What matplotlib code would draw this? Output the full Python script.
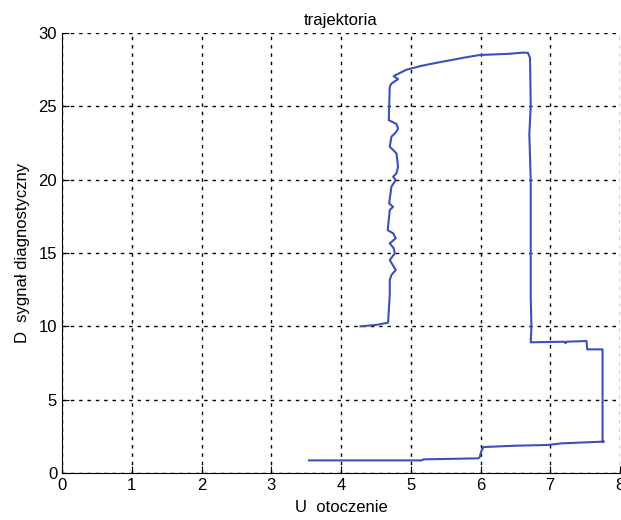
import matplotlib.pyplot as plt

plt.rcParams['font.family'] = ['Liberation Sans', 'DejaVu Sans']

# trajektoria punktu pracy: U (otoczenie) vs D (sygnal diagnostyczny)
u = [4.28, 4.51, 4.675, 4.70, 4.699, 4.723, 4.785, 4.699, 4.771, 4.756,
     4.699, 4.785, 4.747, 4.67, 4.699, 4.747, 4.69, 4.723, 4.785, 4.747,
     4.795, 4.818, 4.795, 4.699, 4.723, 4.795, 4.818, 4.795, 4.685,
     4.699, 4.723, 4.818, 4.756, 4.795, 4.80, 4.94, 5.17, 5.46, 5.80, 5.99,
     6.40, 6.60, 6.68,
     6.71, 6.72, 6.70, 6.72, 6.72, 6.72, 6.73, 6.72,
     7.20, 7.22, 7.23, 7.52, 7.53, 7.75, 7.75, 7.77,
     7.16, 6.97, 6.49, 6.04, 6.01, 5.99, 5.97, 5.18, 5.16, 3.54]
d = [10.0, 10.1, 10.25, 12.25, 13.16, 13.50, 13.84, 14.52, 14.97, 15.32,
     15.66, 16.00, 16.34, 16.56, 17.93, 18.15, 18.38, 19.52, 19.97, 20.20,
     20.43, 20.88, 21.79, 22.25, 22.93, 23.27, 23.49, 23.80, 24.06,
     26.34, 26.55, 26.85, 27.05, 27.17, 27.17, 27.50, 27.78, 28.05, 28.35, 28.50,
     28.58, 28.66, 28.65,
     28.30, 25.00, 23.10, 20.00, 15.00, 12.00, 10.00, 8.91,
     8.95, 8.85, 8.95, 9.00, 8.43, 8.43, 2.14, 2.14,
     2.02, 1.91, 1.86, 1.77, 1.45, 1.10, 1.00, 0.93, 0.86, 0.86]

fig = plt.figure(figsize=(6.21, 5.20), dpi=100)
ax = fig.add_axes([62 / 621, 47 / 520, 558 / 621, 440 / 520])

ax.plot(u, d, color='#3b50b8', linewidth=1.5)

ax.set_xlim(0, 8)
ax.set_ylim(0, 30)
ax.set_xticks(range(0, 9))
ax.set_yticks(range(0, 31, 5))
ax.grid(True, color='black', linestyle=(0, (2.5, 3.5)), linewidth=1.0)
ax.spines['top'].set_visible(False)
ax.spines['right'].set_visible(False)
ax.tick_params(direction='in', length=5, labelsize=12, colors='black')

ax.set_title('trajektoria', fontsize=12, pad=6)
ax.set_xlabel('U  otoczenie', fontsize=12, labelpad=5)
ax.set_ylabel('D  sygnał diagnostyczny', fontsize=12, labelpad=6)

fig.savefig('out.png', dpi=100)
